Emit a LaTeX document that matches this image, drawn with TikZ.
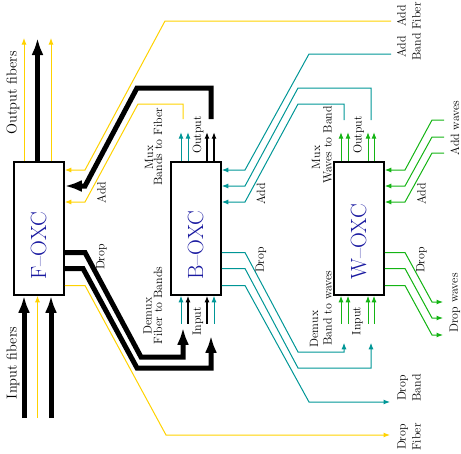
\documentclass[tikz,border=0pt]{standalone}
\usepackage{xcolor}
\usepackage{tikz}
\usetikzlibrary{arrows.meta,calc}
\definecolor{fibergold}{RGB}{255,210,0}
\definecolor{bandteal}{RGB}{0,150,150}
\definecolor{wavegreen}{RGB}{20,180,20}
\definecolor{oxcblue}{RGB}{25,25,160}

\begin{document}
\begin{tikzpicture}[x=1pt, y=-1pt,
    oxc/.style={draw, line width=1.6pt, minimum width=50pt, minimum height=133pt, inner sep=0pt},
    oxcname/.style={rotate=90, anchor=base west, inner sep=0pt, text=oxcblue, font=\fontsize{22}{26}\selectfont},
    lbl/.style={rotate=90, inner sep=0pt, font=\fontsize{12}{14}\selectfont},
    endlbl/.style={lbl, align=center, font=\fontsize{12}{15}\selectfont},
    biglbl/.style={rotate=90, inner sep=0pt, font=\fontsize{14.4}{17}\selectfont},
    fiber/.style={fibergold, line width=1pt},
    band/.style={bandteal, line width=1pt},
    wave/.style={wavegreen, line width=1pt},
    trunk/.style={black, line width=5pt},
    thintip/.style={-{Latex[length=6.5pt,width=5pt]}},
    fattip/.style={-{Latex[length=17pt,width=12pt]}}]
    \useasboundingbox (0,0) rectangle (461,453);

    % the three cross-connects
    \node[oxc] (foxc) at (39,228.5) {};
    \node[oxc] (boxc) at (196,228.5) {};
    \node[oxc] (woxc) at (359,228.5) {};
    \node[oxcname] (fname) at ($(foxc.south)+(7,-16)$) {F--OXC};
    \node[oxcname] (bname) at ($(boxc.south)+(7,-16)$) {B--OXC};
    \node[oxcname] (wname) at ($(woxc.south)+(7,-16)$) {W--OXC};

    % free ends
    \coordinate (fout) at (37.5,38);
    \coordinate (fin) at (37.5,418);
    \coordinate (addfiber) at (391,21);
    \coordinate (addband) at (391,54);
    \coordinate (dropband) at (390,402);
    \coordinate (dropfiber) at (390,435);
    \coordinate (addw1) at (444,120);
    \coordinate (addw2) at (444,137);
    \coordinate (addw3) at (444,153);
    \coordinate (dropw1) at (443,302);
    \coordinate (dropw2) at (443,318);
    \coordinate (dropw3) at (443,335);

    % F-OXC: output and input fibers
    \draw[trunk, fattip] ($(foxc.north)+(-1.5,0)$) -- (fout);
    \draw[fiber, thintip] ($(foxc.north)+(-15,0)$) -- ($(fout)+(-13.5,0)$);
    \draw[fiber, thintip] ($(foxc.north)+(12,0)$) -- ($(fout)+(13.5,0)$);
    \draw[trunk, fattip] ($(fin)+(-13.5,0)$) -- ($(foxc.south)+(-15,0)$);
    \draw[fiber, thintip] (fin) -- ($(foxc.south)+(-1.5,0)$);
    \draw[trunk, fattip] ($(fin)+(13.5,0)$) -- ($(foxc.south)+(12,0)$);

    % F-OXC: add
    \draw[fiber, thintip] (addfiber) -- (165,21) -- (85,170) -- ($(foxc.east)+(0,-58.5)$);
    \draw[trunk, fattip] ($(boxc.north)+(15,-42)$) |- (137,88) -- (85,186) -- ($(foxc.east)+(0,-42.5)$);
    \draw[fiber, thintip] ($(boxc.north)+(-13,-42)$) |- (138,104) -- (85,202) -- ($(foxc.east)+(0,-26.5)$);

    % F-OXC: drop
    \draw[trunk, fattip] ($(foxc.east)+(0,24)$) -- (85,252.5) -- (141,357) -| ($(boxc.south)+(-13,32)$);
    \draw[trunk, fattip] ($(foxc.east)+(0,40)$) -- (83,268.5) -- (137,368) -| ($(boxc.south)+(15,40)$);
    \draw[fiber, thintip] ($(foxc.east)+(0,57)$) -- (85,285.5) -- (166,435) -- (dropfiber);

    % B-OXC: mux and demux ports
    \draw[band, thintip] ($(boxc.north)+(-15,0)$) -- ++(0,-29);
    \draw[band, thintip] ($(boxc.north)+(-8,0)$) -- ++(0,-29);
    \draw[line width=1.2pt, thintip] ($(boxc.north)+(11,0)$) -- ++(0,-29);
    \draw[line width=1.2pt, thintip] ($(boxc.north)+(18,0)$) -- ++(0,-29);
    \draw[band, thintip] ($(boxc.south)+(-15,28)$) -- ($(boxc.south)+(-15,0)$);
    \draw[line width=1.2pt, thintip] ($(boxc.south)+(-8,28)$) -- ($(boxc.south)+(-8,0)$);
    \draw[line width=1.2pt, thintip] ($(boxc.south)+(11,28)$) -- ($(boxc.south)+(11,0)$);
    \draw[band, thintip] ($(boxc.south)+(18,28)$) -- ($(boxc.south)+(18,0)$);

    % B-OXC: add
    \draw[band, thintip] (addband) -- (309,54) -- (245,170) -- ($(boxc.east)+(0,-58.5)$);
    \draw[band, thintip] ($(woxc.north)+(12,-41)$) |- (298,88) -- (245,186) -- ($(boxc.east)+(0,-42.5)$);
    \draw[band, thintip] ($(woxc.north)+(-15,-41)$) |- (298,104) -- (245,202) -- ($(boxc.east)+(0,-26.5)$);

    % B-OXC: drop
    \draw[band, thintip] ($(boxc.east)+(0,24)$) -- (245,252.5) -- (298,352) -| ($(woxc.south)+(-15,47)$);
    \draw[band, thintip] ($(boxc.east)+(0,40)$) -- (245,268.5) -- (298,368) -| ($(woxc.south)+(12,47)$);
    \draw[band, thintip] ($(boxc.east)+(0,57)$) -- (245,285.5) -- (309,402) -- (dropband);

    % W-OXC: mux and demux ports
    \draw[wave, thintip] ($(woxc.north)+(-18,0)$) -- ++(0,-29);
    \draw[wave, thintip] ($(woxc.north)+(-11,0)$) -- ++(0,-29);
    \draw[wave, thintip] ($(woxc.north)+(9,0)$) -- ++(0,-29);
    \draw[wave, thintip] ($(woxc.north)+(15,0)$) -- ++(0,-29);
    \draw[wave, thintip] ($(woxc.south)+(-18,28)$) -- ($(woxc.south)+(-18,0)$);
    \draw[wave, thintip] ($(woxc.south)+(-11,28)$) -- ($(woxc.south)+(-11,0)$);
    \draw[wave, thintip] ($(woxc.south)+(9,28)$) -- ($(woxc.south)+(9,0)$);
    \draw[wave, thintip] ($(woxc.south)+(15,28)$) -- ($(woxc.south)+(15,0)$);

    % W-OXC: add and drop waves
    \draw[wave, thintip] (addw1) -- (432,120) -- (405,170) -- ($(woxc.east)+(0,-58.5)$);
    \draw[wave, thintip] (addw2) -- (432,137) -- (405,186) -- ($(woxc.east)+(0,-42.5)$);
    \draw[wave, thintip] (addw3) -- (432,153) -- (405,202) -- ($(woxc.east)+(0,-26.5)$);
    \draw[wave, thintip] ($(woxc.east)+(0,24)$) -- (405,252.5) -- (432,302) -- (dropw1);
    \draw[wave, thintip] ($(woxc.east)+(0,40)$) -- (405,268.5) -- (432,318) -- (dropw2);
    \draw[wave, thintip] ($(woxc.east)+(0,57)$) -- (405,285.5) -- (432,335) -- (dropw3);

    % labels
    \node[biglbl] (outlbl) at (13,93) {Output fibers};
    \node[biglbl] (inlbl) at (13,363) {Input fibers};
    \node[lbl] (fadd) at (101.5,192.5) {Add};
    \node[lbl] (fdrop) at (101.5,257) {Drop};
    \node[lbl] (badd) at (261,194) {Add};
    \node[lbl] (bdrop) at (261,260) {Drop};
    \node[lbl] (wadd) at (421.5,194) {Add};
    \node[lbl] (wdrop) at (421.5,260) {Drop};
    \node[lbl] (bmux) at (149,157.5) {Mux};
    \node[lbl] (bmuxb) at (158,146.5) {Bands to Fiber};
    \node[lbl] (bdemux) at (147.5,316) {Demux};
    \node[lbl] (bdemuxb) at (158,305.5) {Fiber to Bands};
    \node[lbl] (bout) at (198,135) {Output};
    \node[lbl] (bin) at (198,321.5) {Input};
    \node[lbl] (wmux) at (316,157.5) {Mux};
    \node[lbl] (wmuxb) at (327.5,145) {Waves to Band};
    \node[lbl] (wdemux) at (314,329) {Demux};
    \node[lbl] (wdemuxb) at (327.5,308) {Band to waves};
    \node[lbl] (wout) at (358.5,135) {Output};
    \node[lbl] (win) at (357.5,321) {Input};
    \node[lbl] (addwlbl) at (455,128) {Add waves};
    \node[lbl] (dropwlbl) at (455,303) {Drop waves};
    \node[endlbl] (addflbl) at (409,16) {Add\\Fiber};
    \node[endlbl] (addblbl) at (409,47) {Add\\Band};
    \node[endlbl] (dropblbl) at (409,388) {Drop\\Band};
    \node[endlbl] (dropflbl) at (409,437) {Drop\\Fiber};
\end{tikzpicture}
\end{document}
